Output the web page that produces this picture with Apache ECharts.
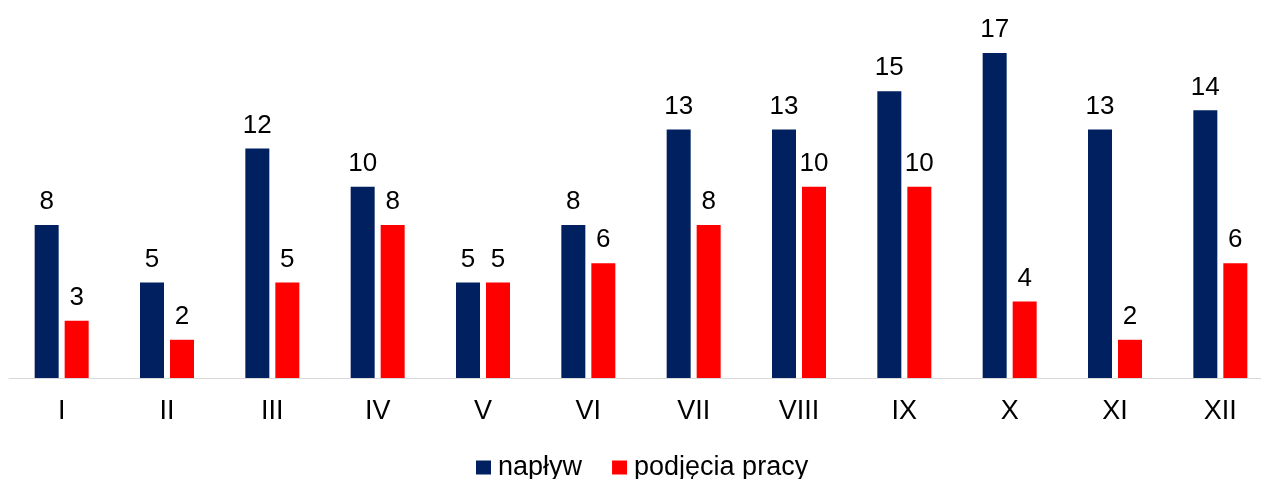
<!DOCTYPE html>
<html>
<head>
<meta charset="utf-8">
<script src="https://cdn.jsdelivr.net/npm/echarts@6/dist/echarts.min.js"></script>
<style>html,body{margin:0;padding:0;background:#fff}#c{width:1261px;height:479px}</style>
</head>
<body>
<div id="c"></div>
<script>
const categories = ['I','II','III','IV','V','VI','VII','VIII','IX','X','XI','XII'];
const naplyw = [8,5,12,10,5,8,13,13,15,17,13,14];
const podjecia = [3,2,5,8,5,6,8,10,10,4,2,6];
const seriesNames = ['napływ','podjęcia pracy'];

const FONT = '"Liberation Sans", Arial, sans-serif';
const chart = echarts.init(document.getElementById('c'), null, {renderer:'canvas'});
const labelStyle = {show:true, position:'top', distance:10, fontSize:26, color:'#000', fontFamily:FONT};
chart.setOption({
  animation:false,
  backgroundColor:'#fff',
  grid:{left:9, right:-12, top:53, bottom:101, containLabel:false, outerBoundsMode:'none'},
  legend:{
    left:476, top:454, padding:0, itemWidth:15, itemHeight:14, itemGap:30,
    textStyle:{fontSize:27, color:'#000', fontFamily:FONT, padding:[0,0,0,2]},
    icon:'rect',
    data:seriesNames
  },
  xAxis:{
    type:'category', data:categories,
    axisLine:{lineStyle:{color:'#d9d9d9', width:1}},
    axisTick:{show:false},
    axisLabel:{fontSize:27, color:'#000', fontFamily:FONT, margin:20}
  },
  yAxis:{type:'value', min:0, max:17, show:false, splitLine:{show:false}},
  series:[
    {name:seriesNames[0], type:'bar', data:naplyw, barWidth:24, barGap:'25%',
     itemStyle:{color:'#002060'}, label:labelStyle},
    {name:seriesNames[1], type:'bar', data:podjecia, barWidth:24, barGap:'25%',
     itemStyle:{color:'#ff0000'}, label:labelStyle}
  ]
});
</script>
</body>
</html>
